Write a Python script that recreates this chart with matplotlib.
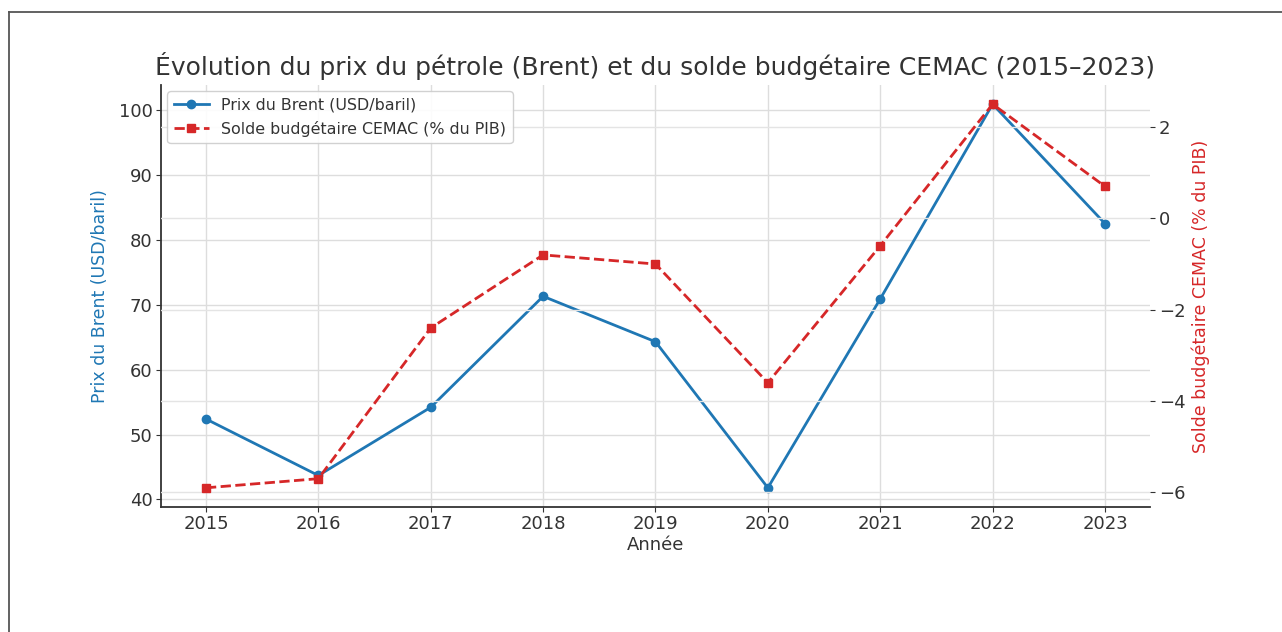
import matplotlib
matplotlib.use("Agg")
import matplotlib.pyplot as plt
from matplotlib.lines import Line2D

# data
years = [2015, 2016, 2017, 2018, 2019, 2020, 2021, 2022, 2023]
brent = [52.4, 43.7, 54.2, 71.3, 64.3, 41.8, 70.9, 100.9, 82.5]
solde = [-5.9, -5.7, -2.4, -0.8, -1.0, -3.6, -0.6, 2.5, 0.7]

blue = "#1f77b4"
red = "#d62728"

fig = plt.figure(figsize=(12.82, 6.32), dpi=100)
ax = fig.add_axes([0.1256, 0.1978, 0.7714, 0.6677])
ax2 = ax.twinx()

l1, = ax.plot(years, brent, color=blue, marker="o", markersize=6, linewidth=2,
              label="Prix du Brent (USD/baril)")
l2, = ax2.plot(years, solde, color=red, marker="s", markersize=6, linewidth=2,
               linestyle="--", label="Solde budgétaire CEMAC (% du PIB)")

ax.set_xticks(years)
ax.tick_params(axis="both", labelsize=13, colors="#333333", pad=2.5)
ax2.tick_params(axis="y", labelsize=13, colors="#333333", pad=3)

ax.grid(True, color="#dddddd", linewidth=1)
ax2.grid(True, color="#e4e4e4", linewidth=1)

for s in ["top", "right"]:
    ax.spines[s].set_visible(False)
for s in ["top", "right", "left", "bottom"]:
    ax2.spines[s].set_visible(False)
ax.spines["left"].set_color("#333333")
ax.spines["bottom"].set_color("#333333")
ax.spines["left"].set_linewidth(1.3)
ax.spines["bottom"].set_linewidth(1.3)

ax.set_xlabel("Année", fontsize=13, color="#333333", labelpad=2)
ax.set_ylabel("Prix du Brent (USD/baril)", fontsize=12.5, color=blue, labelpad=7)
ax2.set_ylabel("Solde budgétaire CEMAC (% du PIB)", fontsize=12.5, color=red, labelpad=4)
ax.set_title("Évolution du prix du pétrole (Brent) et du solde budgétaire CEMAC (2015–2023)",
             fontsize=18, color="#333333", pad=7)

leg = ax2.legend(handles=[l1, l2], loc="upper left", fontsize=11.4, framealpha=0.9,
                 borderaxespad=0.4, handlelength=2.2)
for t in leg.get_texts():
    t.set_color("#333333")

# page frame lines
fig.add_artist(Line2D([0.007, 1.0], [0.981, 0.981], color="#555555", linewidth=1.3))
fig.add_artist(Line2D([0.007, 0.007], [0.0, 0.981], color="#555555", linewidth=1.3))

fig.savefig("out.png", dpi=100)
